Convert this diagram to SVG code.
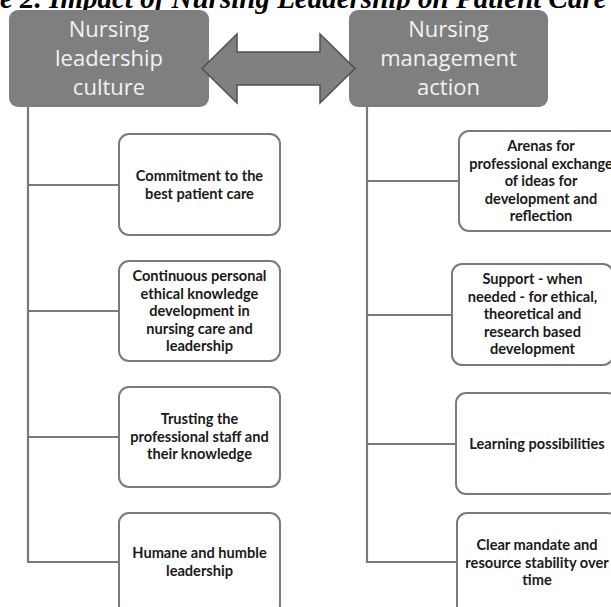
<svg xmlns="http://www.w3.org/2000/svg" width="611" height="607" viewBox="0 0 611 607">
<style>
.title{font-family:"Liberation Serif",serif;font-weight:bold;font-style:italic;font-size:29px;fill:#000}
.hdr rect{fill:#7f7f7f}
.hdr text{font-family:"Open Sans","Noto Sans",sans-serif;font-size:22px;fill:#f2f2f2;text-anchor:middle}
.box rect{fill:#fff;stroke:#7a7a7a;stroke-width:2}
.box text{font-family:Lato,"Noto Sans",sans-serif;font-weight:bold;font-size:14.6px;fill:#1a1a1a;text-anchor:middle}
.conn line{stroke:#7a7a7a;stroke-width:2.2;fill:none}
</style>
<rect width="611" height="607" fill="#fff"/>
<text class="title" x="0" y="8">e 2. Impact of Nursing Leadership on Patient Care</text>

<g id="h1" class="hdr"><rect x="9" y="10" width="200" height="97" rx="9"/>
<text x="109" y="37">Nursing</text><text x="109" y="66">leadership</text><text x="109" y="95">culture</text></g>
<g id="h2" class="hdr"><rect x="349" y="10" width="199" height="97" rx="9"/>
<text x="448.5" y="37">Nursing</text><text x="448.5" y="66">management</text><text x="448.5" y="95">action</text></g>

<g id="arrow"><path d="M202,68.5 L237,34 L237,52 L320,52 L320,34 L355,68.5 L320,103 L320,85 L237,85 L237,103 Z" fill="#808080" stroke="#505050" stroke-width="1.5" stroke-linejoin="miter"/></g>

<g id="connectors" class="conn">
<line x1="28" y1="107" x2="28" y2="563"/>
<line x1="27" y1="185" x2="119" y2="185"/>
<line x1="27" y1="311" x2="119" y2="311"/>
<line x1="27" y1="437" x2="119" y2="437"/>
<line x1="27" y1="562" x2="119" y2="562"/>
<line x1="367" y1="107" x2="367" y2="563"/>
<line x1="366" y1="181" x2="459" y2="181"/>
<line x1="366" y1="315" x2="452" y2="315"/>
<line x1="366" y1="444" x2="456" y2="444"/>
<line x1="366" y1="562" x2="457" y2="562"/>
</g>

<g id="l1" class="box"><rect x="119" y="134" width="161" height="101" rx="10"/>
<text x="199.5" y="181">Commitment to the</text><text x="199.5" y="198.5">best patient care</text></g>
<g id="l2" class="box"><rect x="119" y="261" width="161" height="100" rx="10"/>
<text x="199.5" y="281">Continuous personal</text><text x="199.5" y="298.5">ethical knowledge</text><text x="199.5" y="316">development in</text><text x="199.5" y="333.5">nursing care and</text><text x="199.5" y="351">leadership</text></g>
<g id="l3" class="box"><rect x="119" y="387" width="161" height="100" rx="10"/>
<text x="199.5" y="424">Trusting the</text><text x="199.5" y="441.5">professional staff and</text><text x="199.5" y="459">their knowledge</text></g>
<g id="l4" class="box"><rect x="119" y="513" width="161" height="102" rx="10"/>
<text x="199.5" y="558">Humane and humble</text><text x="199.5" y="575.5">leadership</text></g>

<g id="r1" class="box"><rect x="459" y="131" width="164" height="100" rx="10"/>
<text x="541" y="151">Arenas for</text><text x="541" y="168.5">professional exchange</text><text x="541" y="186">of ideas for</text><text x="541" y="203.5">development and</text><text x="541" y="221">reflection</text></g>
<g id="r2" class="box"><rect x="452" y="264" width="161" height="101" rx="10"/>
<text x="532.5" y="284">Support - when</text><text x="532.5" y="301.5">needed - for ethical,</text><text x="532.5" y="319">theoretical and</text><text x="532.5" y="336.5">research based</text><text x="532.5" y="354">development</text></g>
<g id="r3" class="box"><rect x="456" y="393" width="162" height="101" rx="10"/>
<text x="537" y="449">Learning possibilities</text></g>
<g id="r4" class="box"><rect x="457" y="513" width="161" height="110" rx="10"/>
<text x="537" y="550">Clear mandate and</text><text x="537" y="567.5">resource stability over</text><text x="537" y="585">time</text></g>
</svg>
